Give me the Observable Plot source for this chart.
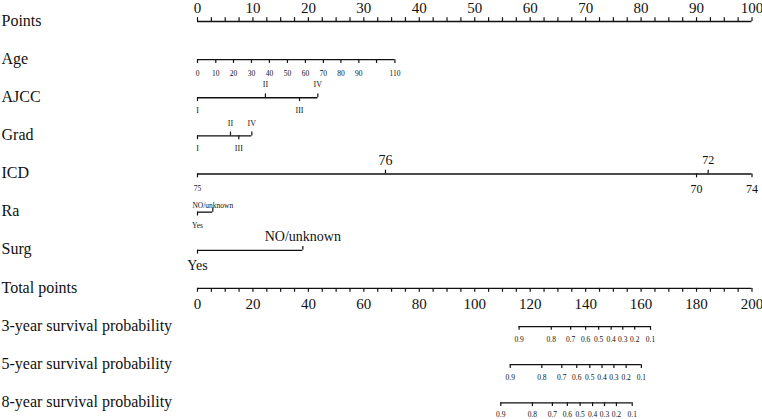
<!DOCTYPE html>
<html><head><meta charset="utf-8">
<script src="https://cdn.jsdelivr.net/npm/d3@7"></script>
<script src="https://cdn.jsdelivr.net/npm/@observablehq/plot@0.6"></script>
<style>body{margin:0;background:#fff} svg{display:block}</style>
</head><body><div id="chart"></div>
<script>
// ---------- data ----------
const rowNames = ["Points","Age","AJCC","Grad","ICD","Ra","Surg","Total points",
  "3-year survival probability","5-year survival probability","8-year survival probability"];

// Points axis (0-100)
const pointsMajor = [0,10,20,30,40,50,60,70,80,90,100];
const pointsMinor = [2.5,5,7.5,12.5,15,17.5,22.5,25,27.5,32.5,35,37.5,42.5,45,47.5,52.5,55,57.5,
  62.5,65,67.5,72.5,75,77.5,82.5,85,87.5,92.5,95,97.5];

// Age
const ageLabels = ["0","10","20","30","40","50","60","70","80","90","","110"];
const agePoints = [0,3.30,6.49,9.73,12.97,16.22,19.46,22.70,25.86,29.10,32.29,35.6];

// AJCC
const ajccLabels = ["I","II","III","IV"];
const ajccPoints = [0,12.25,18.4,21.7];

// Grad
const gradLabels = ["I","II","III","IV"];
const gradPoints = [0,5.95,7.45,9.8];

// ICD
const icdLabels = ["75","76","70","72","74"];
const icdPoints = [0,33.9,90.0,92.1,100];

// Ra
const raLabels = ["Yes","NO/unknown"];
const raPoints = [0,2.76];

// Surg
const surgLabels = ["Yes","NO/unknown"];
const surgPoints = [0,19.0];

// Total points axis (0-200)
const totalMajor = [0,20,40,60,80,100,120,140,160,180,200];
const totalMinor = [5,10,15,25,30,35,45,50,55,65,70,75,85,90,95,105,110,115,125,130,135,
  145,150,155,165,170,175,185,190,195];

// Survival probabilities (tick labels) and their total points
const probLabels = ["0.9","0.8","0.7","0.6","0.5","0.4","0.3","0.2","0.1"];
const surv3Total = [116.0,127.6,134.6,140.0,144.7,149.2,153.4,157.7,163.4];
const surv5Total = [112.8,124.2,131.4,136.8,141.5,145.9,150.2,154.6,160.1];
const surv8Total = [109.4,120.8,128.0,133.4,138.0,142.5,146.8,151.1,156.8];

// ---------- layout (styles, not data) ----------
const TOTAL_TO_POINTS = 100 / 200;
const TICK = 0.1; // tick length in row units
const rowStyle = {
  "Points": {size: 15, above: -13, below: 13},
  "Age": {size: 7.5, above: -12, below: 14},
  "AJCC": {size: 8, above: -13, below: 13},
  "Grad": {size: 8, above: -12, below: 13},
  "ICD": {size: 12, above: -14, below: 15},
  "Ra": {size: 7.5, above: -7, below: 13},
  "Surg": {size: 14, above: -14, below: 15},
  "Total points": {size: 15, above: -13, below: 16},
  "prob": {size: 7.5, above: -12, below: 13}
};
const probDy = [13, 13, 12];
const sides = {
  "Age": ageLabels.map(() => 1),
  "AJCC": [1,-1,1,-1],
  "Grad": [1,-1,1,-1],
  "ICD": [1,-1,1,-1,1],
  "Ra": [1,-1],
  "Surg": [1,-1]
};
const icdSizes = [7.5,14,12,12,12];

// ---------- build tables ----------
const segs = [], ticks = [], labels = [];
const r = name => rowNames.indexOf(name);

segs.push({row: 0, x1: 0, x2: 100});
pointsMajor.forEach(p => { ticks.push({row: 0, x: p, dir: -1});
  labels.push({row: 0, x: p, text: String(p), dy: rowStyle.Points.above, size: rowStyle.Points.size}); });
pointsMinor.forEach(p => ticks.push({row: 0, x: p, dir: -1}));

function variable(name, pts, labs, sizes) {
  const row = r(name), st = rowStyle[name];
  segs.push({row, x1: d3.min(pts), x2: d3.max(pts)});
  pts.forEach((p, i) => {
    const s = sides[name][i];
    ticks.push({row, x: p, dir: s});
    if (labs[i] !== "") labels.push({row, x: p, text: labs[i],
      dy: s < 0 ? st.above : st.below, size: sizes ? sizes[i] : st.size});
  });
}
variable("Age", agePoints, ageLabels);
variable("AJCC", ajccPoints, ajccLabels);
variable("Grad", gradPoints, gradLabels);
variable("ICD", icdPoints, icdLabels, icdSizes);
variable("Ra", raPoints, raLabels);
variable("Surg", surgPoints, surgLabels);

const tr = r("Total points");
segs.push({row: tr, x1: 0, x2: 200 * TOTAL_TO_POINTS});
totalMajor.forEach(t => { ticks.push({row: tr, x: t * TOTAL_TO_POINTS, dir: 1});
  labels.push({row: tr, x: t * TOTAL_TO_POINTS, text: String(t), dy: rowStyle["Total points"].below, size: rowStyle["Total points"].size}); });
totalMinor.forEach(t => ticks.push({row: tr, x: t * TOTAL_TO_POINTS, dir: 1}));

[[8, surv3Total],[9, surv5Total],[10, surv8Total]].forEach(([row, tot], k) => {
  segs.push({row, x1: d3.min(tot) * TOTAL_TO_POINTS, x2: d3.max(tot) * TOTAL_TO_POINTS});
  tot.forEach((t, i) => {
    ticks.push({row, x: t * TOTAL_TO_POINTS, dir: 1});
    labels.push({row, x: t * TOTAL_TO_POINTS, text: probLabels[i], dy: probDy[k], size: rowStyle.prob.size});
  });
});

const rowLabels = rowNames.map((name, i) => ({row: i, name}));

const font = "'Liberation Serif', 'DejaVu Serif', serif";
const textMarks = d3.groups(labels, d => d.size + "|" + d.dy).map(([k, arr]) =>
  Plot.text(arr, {x: "x", y: "row", text: "text", dy: arr[0].dy, fontSize: arr[0].size, fill: "#111"}));

const chart = Plot.plot({
  width: 762, height: 419,
  marginLeft: 197, marginRight: 10, marginTop: 21, marginBottom: 17,
  style: {fontFamily: font, background: "#fff"},
  x: {domain: [0, 100], range: [197, 751.5], axis: null},
  y: {domain: [0, 10], range: [21, 402.3], axis: null},
  marks: [
    Plot.ruleY(segs, {y: "row", x1: "x1", x2: "x2", stroke: "#111", strokeWidth: 1.3}),
    Plot.ruleX(ticks, {x: "x", y1: "row", y2: d => d.row + d.dir * TICK, stroke: "#111", strokeWidth: 1.2}),
    ...textMarks,
    Plot.text(rowLabels, {y: "row", text: "name", frameAnchor: "left", dx: -196, dy: -1,
      textAnchor: "start", fontSize: 16, fill: "#111"})
  ]
});
document.getElementById("chart").appendChild(chart);
</script>
</body></html>
